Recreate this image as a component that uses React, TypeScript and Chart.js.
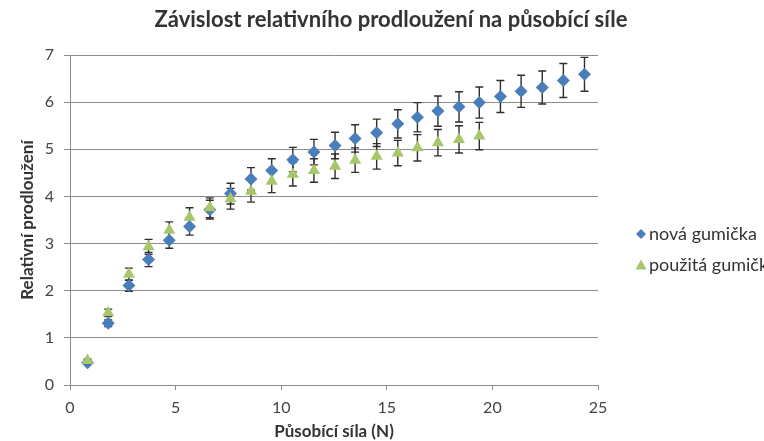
import React, { useEffect, useRef } from "react";
import { Chart, registerables } from "chart.js";

Chart.register(...registerables);

const TITLE = "Závislost relativního prodloužení na působící síle";
const X_TITLE = "Působící síla (N)";
const Y_TITLE = "Relativní prodloužení";
const SERIES_NAMES = ["nová gumička", "použitá gumička"];

const forceNew = [
  0.83, 1.81, 2.79, 3.72, 4.7, 5.66, 6.62, 7.6, 8.57, 9.55, 10.55, 11.55, 12.55,
  13.5, 14.52, 15.52, 16.45, 17.42, 18.42, 19.38, 20.38, 21.36, 22.36, 23.36, 24.36,
];
const elongNew = [
  0.47, 1.31, 2.11, 2.66, 3.07, 3.36, 3.72, 4.06, 4.37, 4.55, 4.78, 4.94, 5.08,
  5.23, 5.35, 5.54, 5.68, 5.81, 5.9, 5.99, 6.12, 6.23, 6.31, 6.46, 6.59,
];
const errNew = [
  0.03, 0.07, 0.12, 0.15, 0.17, 0.18, 0.2, 0.22, 0.24, 0.25, 0.26, 0.27, 0.28,
  0.29, 0.29, 0.3, 0.31, 0.32, 0.32, 0.33, 0.34, 0.34, 0.35, 0.36, 0.36,
];

const forceUsed = [
  0.83, 1.81, 2.79, 3.72, 4.7, 5.66, 6.62, 7.6, 8.57, 9.55, 10.55, 11.55, 12.55,
  13.5, 14.52, 15.52, 16.45, 17.42, 18.42, 19.38,
];
const elongUsed = [
  0.52, 1.53, 2.35, 2.93, 3.28, 3.56, 3.76, 3.95, 4.11, 4.32, 4.47, 4.55, 4.64,
  4.77, 4.85, 4.92, 5.03, 5.14, 5.21, 5.28,
];
const errUsed = [
  0.03, 0.08, 0.13, 0.16, 0.18, 0.2, 0.21, 0.22, 0.23, 0.24, 0.25, 0.25, 0.26,
  0.26, 0.27, 0.27, 0.28, 0.28, 0.29, 0.29,
];

const Y_TICKS = [0, 1, 2, 3, 4, 5, 6, 7];
const X_TICKS = [0, 5, 10, 15, 20, 25];

const BLUE = "#4a7ebb";
const GREEN = "#a8c66a";
const FONT = "Lato, 'Open Sans', sans-serif";

const errorBars = {
  id: "errorBars",
  beforeDatasetsDraw(chart: any) {
    const { ctx } = chart;
    const xs = chart.scales.x;
    const ys = chart.scales.y;
    const errs = [errNew, errUsed];
    ctx.save();
    ctx.strokeStyle = "#2e2e2e";
    ctx.lineWidth = 1.4;
    chart.data.datasets.forEach((ds: any, di: number) => {
      ds.data.forEach((p: any, i: number) => {
        const e = errs[di][i];
        const px = xs.getPixelForValue(p.x);
        const top = ys.getPixelForValue(p.y + e);
        const bot = ys.getPixelForValue(p.y - e);
        ctx.beginPath();
        ctx.moveTo(px, top);
        ctx.lineTo(px, bot);
        ctx.moveTo(px - 4, top);
        ctx.lineTo(px + 4, top);
        ctx.moveTo(px - 4, bot);
        ctx.lineTo(px + 4, bot);
        ctx.stroke();
      });
    });
    ctx.restore();
  },
};

const titleAndLegend = {
  id: "titleAndLegend",
  afterDraw(chart: any) {
    const { ctx } = chart;
    ctx.save();
    ctx.fillStyle = "#333";
    ctx.font = `bold 22px ${FONT}`;
    ctx.textAlign = "center";
    ctx.textBaseline = "middle";
    ctx.fillText(TITLE, 391, 20);

    ctx.font = `18px ${FONT}`;
    ctx.textAlign = "left";
    const rows = [
      { y: 234, color: BLUE, style: "diamond" },
      { y: 265, color: GREEN, style: "triangle" },
    ];
    chart.data.datasets.forEach((ds: any, i: number) => {
      const r = rows[i];
      const cx = 641;
      ctx.fillStyle = r.color;
      ctx.beginPath();
      if (r.style === "diamond") {
        ctx.moveTo(cx - 5, r.y);
        ctx.lineTo(cx, r.y - 5);
        ctx.lineTo(cx + 5, r.y);
        ctx.lineTo(cx, r.y + 5);
      } else {
        ctx.moveTo(cx, r.y - 5.5);
        ctx.lineTo(cx + 5.5, r.y + 4.5);
        ctx.lineTo(cx - 5.5, r.y + 4.5);
      }
      ctx.closePath();
      ctx.fill();
      ctx.fillStyle = "#333";
      ctx.fillText(ds.label, 649, r.y);
    });
    ctx.restore();
  },
};

export default function App() {
  const ref = useRef<HTMLCanvasElement | null>(null);
  useEffect(() => {
    if (!ref.current) return;
    const chart = new Chart(ref.current, {
      type: "scatter",
      data: {
        datasets: [
          {
            label: SERIES_NAMES[0],
            data: forceNew.map((x, i) => ({ x, y: elongNew[i] })),
            backgroundColor: BLUE,
            borderColor: BLUE,
            borderWidth: 0,
            pointStyle: "rectRot",
            pointRadius: 6.5,
            order: 2,
          },
          {
            label: SERIES_NAMES[1],
            data: forceUsed.map((x, i) => ({ x, y: elongUsed[i] })),
            backgroundColor: GREEN,
            borderColor: GREEN,
            borderWidth: 0,
            pointStyle: "triangle",
            pointRadius: 7,
            order: 1,
          },
        ],
      },
      options: {
        animation: false,
        responsive: false,
        layout: { padding: { left: 0, right: 166, top: 55, bottom: 0 } },
        plugins: { legend: { display: false }, tooltip: { enabled: false }, title: { display: false } },
        scales: {
          x: {
            type: "linear",
            min: 0,
            max: 25,
            afterBuildTicks: (s: any) => {
              s.ticks = X_TICKS.map((v) => ({ value: v }));
            },
            afterFit: (s: any) => {
              s.height = 56;
            },
            grid: { drawOnChartArea: false, drawTicks: true, tickLength: 5, color: "#8c8c8c" },
            border: { display: true, color: "#8c8c8c", width: 1 },
            ticks: { color: "#444", font: { family: FONT, size: 16 }, padding: 8 },
            title: {
              display: true,
              text: X_TITLE,
              color: "#333",
              font: { family: FONT, size: 17, weight: "bold" },
              padding: { top: 0, bottom: -1 },
            },
          },
          y: {
            type: "linear",
            min: 0,
            max: 7,
            afterBuildTicks: (s: any) => {
              s.ticks = Y_TICKS.map((v) => ({ value: v }));
            },
            afterFit: (s: any) => {
              s.width = 70;
            },
            grid: { drawOnChartArea: true, drawTicks: true, tickLength: 6, color: "#8c8c8c" },
            border: { display: true, color: "#8c8c8c", width: 1 },
            ticks: { color: "#444", font: { family: FONT, size: 16 }, padding: 10 },
            title: {
              display: true,
              text: Y_TITLE,
              color: "#333",
              font: { family: FONT, size: 17, weight: "bold" },
              padding: { top: 17, bottom: 0 },
            },
          },
        },
      },
      plugins: [errorBars, titleAndLegend],
    } as any);
    return () => chart.destroy();
  }, []);
  return (
    <div style={{ position: "absolute", left: 0, top: 0, width: 764, height: 441, background: "#fff" }}>
      <canvas ref={ref} width={764} height={441} style={{ display: "block" }} />
    </div>
  );
}
